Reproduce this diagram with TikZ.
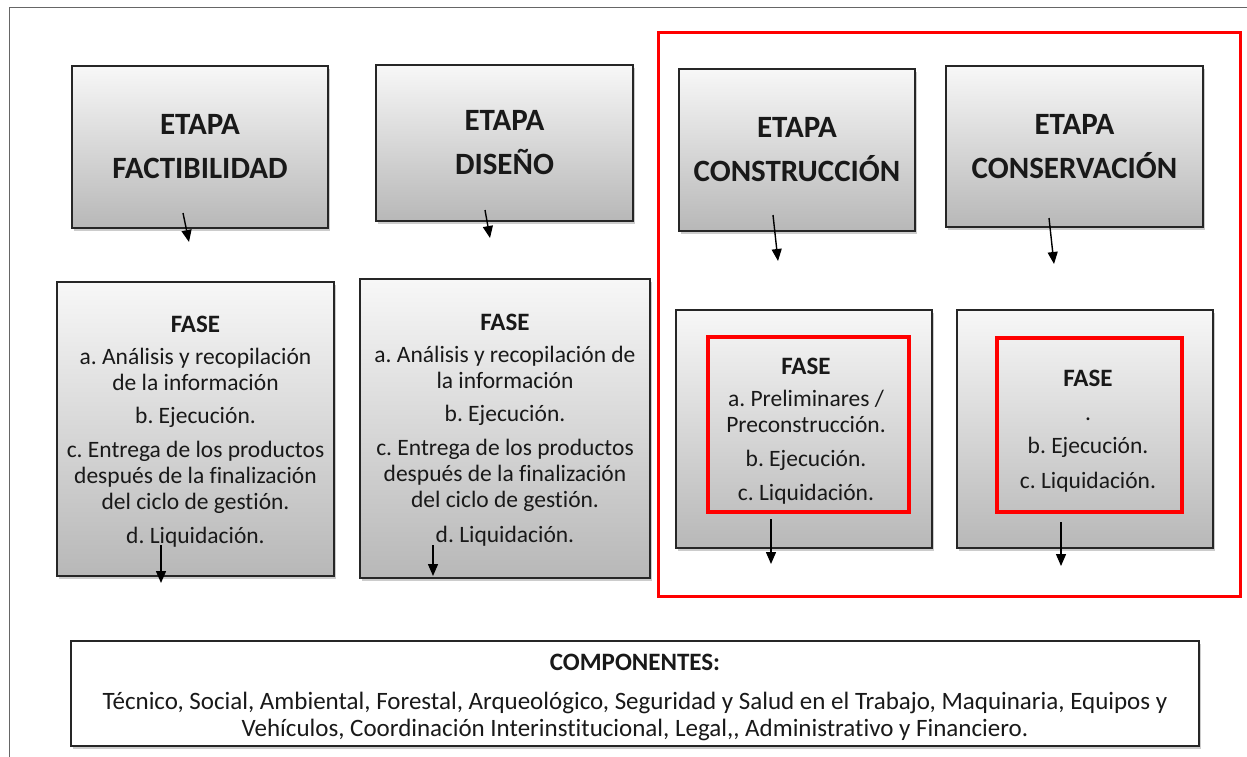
\documentclass[tikz,border=0pt]{standalone}
\usepackage{fontspec}
\setmainfont{Carlito}[Ligatures={NoCommon}]
\usetikzlibrary{arrows.meta,shadows}
\frenchspacing
\begin{document}
\begin{tikzpicture}[x=1pt,y=-1pt,
  gbox/.style={draw=black!85, line width=1.6pt, top color=black!3, bottom color=black!28,
    drop shadow={shadow xshift=2pt,shadow yshift=-3pt,opacity=0.2,fill=black},
    inner sep=0pt, align=center, text=black!90},
  wbox/.style={draw=black!85, line width=1.6pt, fill=white,
    drop shadow={shadow xshift=2pt,shadow yshift=-3pt,opacity=0.2,fill=black},
    inner sep=0pt, align=center, text=black!90},
  redbox/.style={draw=red, line width=3.5pt, inner sep=0pt},
  redzone/.style={draw=red, line width=3pt, inner sep=0pt},
  txt/.style={inner sep=0pt, align=center, text=black!90},
  etapa/.style={font=\fontsize{31}{44}\selectfont\bfseries},
  fase/.style={font=\fontsize{23.5}{26}\selectfont},
  comp/.style={font=\fontsize{25}{27}\selectfont},
  arr/.style={line width=1.4pt, -{Triangle[length=12pt,width=10pt]}},
  frame/.style={draw=black!60, line width=1pt}
]
\useasboundingbox (0,0) rectangle (1247,757);

% page frame
\coordinate (fr1) at (9,757);
\coordinate (fr2) at (9,8);
\coordinate (fr3) at (1247,8);
\draw[frame] (fr1) -- (fr2) -- (fr3);

% red zone
\node[redzone, minimum width=582pt, minimum height=563pt] (zone) at (949,314.5) {};

% ETAPA boxes
\node[gbox, etapa, minimum width=256pt, minimum height=162pt] (e1) at (200,147) {ETAPA\\FACTIBILIDAD};
\node[gbox, etapa, minimum width=257pt, minimum height=156pt] (e2) at (504.5,143) {ETAPA\\DISEÑO};
\node[gbox, etapa, minimum width=236pt, minimum height=162pt] (e3) at (797,150) {ETAPA\\CONSTRUCCIÓN};
\node[gbox, etapa, minimum width=257pt, minimum height=161pt] (e4) at (1074.5,146.5) {ETAPA\\CONSERVACIÓN};

% FASE boxes
\node[gbox, minimum width=277pt, minimum height=294pt] (f1) at (195.5,429) {};
\node[txt, fase] (t1) at (195.5,432) {%
  \textbf{\fontsize{25}{26}\selectfont FASE}\\[6pt]
  a. Análisis y recopilación\\ de la información\\[7pt]
  b. Ejecución.\\[8pt]
  c. Entrega de los productos\\ después de la finalización\\ del ciclo de gestión.\\[8pt]
  d. Liquidación.};
\node[gbox, minimum width=290pt, minimum height=299pt] (f2) at (505,428.5) {};
\node[txt, fase] (t2) at (505,430.5) {%
  \textbf{\fontsize{25}{26}\selectfont FASE}\\[6pt]
  a. Análisis y recopilación de\\ la información\\[7pt]
  b. Ejecución.\\[8pt]
  c. Entrega de los productos\\ después de la finalización\\ del ciclo de gestión.\\[9pt]
  d. Liquidación.};
\node[gbox, minimum width=256pt, minimum height=238pt] (f3) at (804,429) {};
\node[gbox, minimum width=256pt, minimum height=238pt] (f4) at (1085,429) {};
\node[redbox, minimum width=201pt, minimum height=175pt] (r3) at (808.5,424.5) {};
\node[redbox, minimum width=185pt, minimum height=174pt] (r4) at (1089.5,425) {};
\node[txt, fase] (t3) at (806,431) {%
  \textbf{\fontsize{25}{26}\selectfont FASE}\\[6pt]
  a. Preliminares /\\ Preconstrucción.\\[8pt]
  b. Ejecución.\\[8pt]
  c. Liquidación.};
\node[txt, fase] (t4) at (1088,431) {%
  \textbf{\fontsize{25}{26}\selectfont FASE}\\[8pt]
  .\\[7pt]
  b. Ejecución.\\[9pt]
  c. Liquidación.};

% COMPONENTES
\node[wbox, minimum width=1128pt, minimum height=105pt] (c1) at (635,693.5) {};
\node[txt, comp] (tc) at (635,697) {%
  \textbf{COMPONENTES:}\\[12pt]
  Técnico, Social, Ambiental, Forestal, Arqueológico, Seguridad y Salud en el Trabajo, Maquinaria, Equipos y\\
  Vehículos, Coordinación Interinstitucional, Legal,{},  Administrativo y Financiero.};

% arrows
\coordinate (a1s) at (183,213); \coordinate (a1e) at (189,242);
\coordinate (a2s) at (485,210); \coordinate (a2e) at (490,238);
\coordinate (a3s) at (773,215); \coordinate (a3e) at (778,261);
\coordinate (a4s) at (1049,218); \coordinate (a4e) at (1054,264);
\coordinate (b1s) at (161,545); \coordinate (b1e) at (161,583);
\coordinate (b2s) at (433,545); \coordinate (b2e) at (433,576);
\coordinate (b3s) at (771,519); \coordinate (b3e) at (771,564);
\coordinate (b4s) at (1061,522); \coordinate (b4e) at (1061,566);
\foreach \s/\e in {a1s/a1e,a2s/a2e,a3s/a3e,a4s/a4e,b1s/b1e,b2s/b2e,b3s/b3e,b4s/b4e}
  \draw[arr] (\s) -- (\e);
\end{tikzpicture}
\end{document}
